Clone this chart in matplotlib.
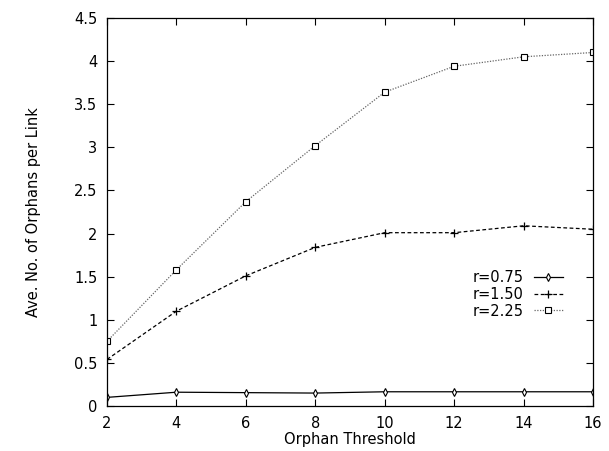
import matplotlib.pyplot as plt

thresholds = [2, 4, 6, 8, 10, 12, 14, 16]
r075 = [0.10, 0.16, 0.155, 0.15, 0.165, 0.165, 0.165, 0.165]
r150 = [0.54, 1.10, 1.51, 1.84, 2.01, 2.01, 2.09, 2.05]
r225 = [0.75, 1.58, 2.37, 3.02, 3.64, 3.94, 4.05, 4.10]
labels = ["r=0.75", "r=1.50", "r=2.25"]
yticks = [0, 0.5, 1, 1.5, 2, 2.5, 3, 3.5, 4, 4.5]
ytick_labels = ["0", "0.5", "1", "1.5", "2", "2.5", "3", "3.5", "4", "4.5"]

plt.rcParams["font.family"] = ["DejaVu Sans"]

W, H = 609, 451
fig = plt.figure(figsize=(W / 100, H / 100), dpi=100)
# frame measured in pixels: left 107, right 593, top 18, bottom 406
ax = fig.add_axes([107 / W, (H - 406) / H, 486 / W, 388 / H])

ax.plot(thresholds, r075, color="black", lw=0.9, marker="d", ms=4,
        mfc="white", mec="black", mew=0.8, label=labels[0])
ax.plot(thresholds, r150, color="black", lw=0.9, ls=(0, (3, 2)), marker="+",
        ms=5.5, mew=0.9, label=labels[1])
ax.plot(thresholds, r225, color="#666666", lw=0.9, ls=(0, (1, 1.2)), marker="s",
        ms=4, mfc="white", mec="black", mew=0.8, label=labels[2])

ax.set_xlim(2, 16)
ax.set_ylim(0, 4.5)
ax.set_xticks(thresholds)
ax.set_yticks(yticks)
ax.set_yticklabels(ytick_labels)
ax.tick_params(direction="in", top=True, right=True, length=5, width=0.8,
               labelsize=10.5)
ax.tick_params(axis="y", pad=7)
ax.tick_params(axis="x", pad=7)
for s in ax.spines.values():
    s.set_linewidth(0.9)

ax.set_xlabel("Orphan Threshold", fontsize=10.5, labelpad=1)
ax.set_ylabel("Ave. No. of Orphans per Link", fontsize=10.5, labelpad=24)

ax.legend(loc="upper right", bbox_to_anchor=(563 / W, (H - 270) / H),
          bbox_transform=fig.transFigure, frameon=False, markerfirst=False,
          fontsize=10.5, handlelength=2.0, handletextpad=0.7,
          labelspacing=0.12, borderpad=0, borderaxespad=0)

fig.savefig("out.png", dpi=100)
